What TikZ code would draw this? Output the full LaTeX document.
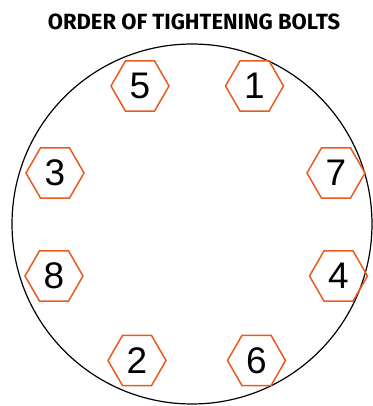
\documentclass[tikz,border=0pt]{standalone}
\usepackage{fontspec}
\setmainfont{Liberation Sans}
\newfontfamily\titlefont{Fira Sans}
\usepackage{tikz}
\usetikzlibrary{positioning,shapes.geometric}
\definecolor{boltorange}{HTML}{E85A1E}

\begin{document}
\begin{tikzpicture}[x=1pt,y=1pt,
  bolt/.style={regular polygon,regular polygon sides=6,draw=boltorange,line width=1.5pt,minimum size=58pt,inner sep=0pt,font=\fontsize{37}{40}\selectfont},
  flange/.style={circle,draw=black,line width=1.2pt,minimum size=360pt,inner sep=0pt}]
  \useasboundingbox (0,0) rectangle (372,406);
  % title
  \node[font=\titlefont\bfseries\fontsize{22}{24}\selectfont] (title) at (194,384.5) {ORDER OF TIGHTENING BOLTS};
  % flange outline
  \node[flange] (rim) at (192,182) {};
  % bolts, top to bottom
  \node[bolt] (b5) at (140,320) {5}; \node[bolt] (b1) at (254.5,320) {1};
  \node[bolt] (b3) at (55,233) {3};  \node[bolt] (b7) at (336,233) {7};
  \node[bolt] (b8) at (54,130) {8};  \node[bolt] (b4) at (338.5,130) {4};
  \node[bolt] (b2) at (137,45.5) {2}; \node[bolt] (b6) at (256.5,45.5) {6};
\end{tikzpicture}
\end{document}
